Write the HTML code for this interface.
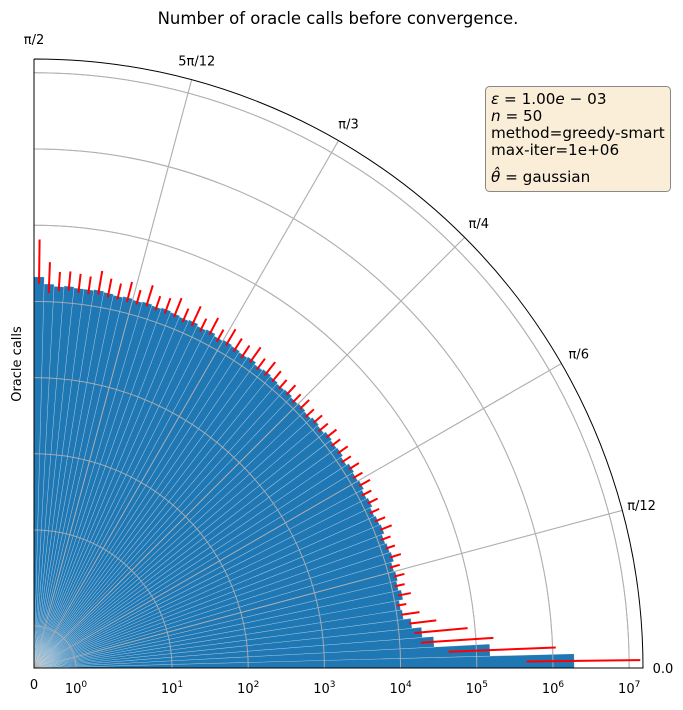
<!DOCTYPE html>
<html><head><meta charset="utf-8">
<style>
html,body{margin:0;padding:0;background:#fff;}
body{width:683px;height:706px;overflow:hidden;font-family:"DejaVu Sans","Liberation Sans",sans-serif;}
svg text{font-family:"DejaVu Sans","Liberation Sans",sans-serif;fill:#000;}
</style></head>
<body>
<svg id="chart" width="683" height="706" viewBox="0 0 683 706" xmlns="http://www.w3.org/2000/svg">
<text x="338" y="24" text-anchor="middle" font-size="16.5">Number of oracle calls before convergence.</text>
<text transform="translate(21,364) rotate(-90)" text-anchor="middle" font-size="13">Oracle calls</text>
<g id="grid"></g>
<g id="bars"></g>
<g id="errs"></g>
<g id="frame"></g>
<g id="labels"></g>
<g>
<rect x="485.5" y="86.5" width="185" height="105" rx="4" fill="#faeed9" stroke="#888" stroke-width="1"/>
<text x="491" y="104" font-size="15.2"><tspan font-style="italic">ε</tspan> = 1.00<tspan font-style="italic">e</tspan> − 03</text>
<text x="491" y="121" font-size="15.2"><tspan font-style="italic">n</tspan> = 50</text>
<text x="491" y="138" font-size="15.2">method=greedy-smart</text>
<text x="491" y="155" font-size="15.2">max-iter=1e+06</text>
<text x="491" y="182" font-size="15.2"><tspan font-style="italic">θ̂</tspan> = gaussian</text>
</g>
</svg>
<script>
const values = [1.9e6,1.5e5,2.8e4,2.0e4,1.5e4,1.2e4,1.15e4,1.3e4,1.2e4,1.25e4,
1.2e4,1.3e4,1.25e4,1.2e4,1.3e4,1.25e4,1.2e4,1.28e4,1.22e4,1.3e4,
1.25e4,1.3e4,1.2e4,1.28e4,1.25e4,1.3e4,1.22e4,1.27e4,1.2e4,1.25e4,
1.22e4,1.28e4,1.25e4,1.3e4,1.35e4,1.3e4,1.4e4,1.35e4,1.4e4,1.45e4,
1.4e4,1.5e4,1.45e4,1.55e4,1.5e4,1.55e4,1.6e4,1.55e4,1.6e4,1.55e4,
1.6e4,1.55e4,1.6e4,1.65e4,1.6e4,1.6e4,1.65e4,1.6e4,1.7e4,2.1e4];
const errLow = [4.5e5,4.3e4,1.9e4,1.6e4,1.4e4,1.15e4,1.05e4,1.15e4,1.1e4,1.15e4,
1.1e4,1.2e4,1.15e4,1.1e4,1.2e4,1.15e4,1.1e4,1.18e4,1.12e4,1.2e4,
1.15e4,1.2e4,1.1e4,1.18e4,1.15e4,1.2e4,1.12e4,1.17e4,1.1e4,1.15e4,
1.12e4,1.18e4,1.15e4,1.2e4,1.2e4,1.2e4,1.25e4,1.2e4,1.25e4,1.3e4,
1.25e4,1.35e4,1.3e4,1.35e4,1.35e4,1.4e4,1.4e4,1.4e4,1.45e4,1.4e4,
1.4e4,1.4e4,1.4e4,1.45e4,1.4e4,1.4e4,1.45e4,1.4e4,1.3e4,1.7e4];
const errHigh = [1.4e7,1.1e6,1.7e5,8e4,3.2e4,2.0e4,1.4e4,1.7e4,1.5e4,1.6e4,
1.5e4,1.7e4,1.55e4,1.5e4,1.75e4,1.6e4,1.5e4,1.65e4,1.55e4,1.75e4,
1.6e4,1.7e4,1.55e4,1.7e4,1.6e4,1.75e4,1.6e4,1.65e4,1.55e4,1.7e4,
1.6e4,1.75e4,1.65e4,1.8e4,2.0e4,1.8e4,2.2e4,1.9e4,2.0e4,2.3e4,
1.9e4,2.4e4,2.0e4,2.6e4,2.1e4,2.6e4,2.3e4,2.2e4,2.8e4,2.2e4,
2.6e4,2.3e4,2.5e4,3.0e4,2.4e4,2.5e4,2.6e4,2.5e4,3.3e4,6.5e4];
const rTicks = [1,10,100,1000,1e4,1e5,1e6,1e7];
const rTickLabels = ["0","1","2","3","4","5","6","7"];
const thetaTickLabels = ["0.0","π/12","π/6","π/4","π/3","5π/12","π/2"];

const CX=34, CY=668, RMAX=609;
function rScale(v){
  if(v<=0) return 0;
  if(v<1) return 42*v;
  if(v<10) return 42+96*Math.log10(v);
  return 138+76.2*(Math.log10(v)-1);
}
function pt(r,a){return [CX+r*Math.cos(a), CY-r*Math.sin(a)];}
const NS="http://www.w3.org/2000/svg";
function mk(tag,attrs,parent){const e=document.createElementNS(NS,tag);for(const k in attrs)e.setAttribute(k,attrs[k]);parent.appendChild(e);return e;}

const grid=document.getElementById('grid');
rTicks.forEach((t,i)=>{
  const r=rScale(t);const p=pt(r,Math.PI/2);
  const c=mk('path',{d:`M${CX+r},${CY} A${r},${r} 0 0 0 ${p[0]},${p[1]}`,fill:'none',stroke:'#b0b0b0','stroke-width':1},grid);
  
  
});
thetaTickLabels.forEach((lab,i)=>{
  const a=i*Math.PI/12;const p=pt(RMAX,a);
  const l=mk('line',{x1:CX,y1:CY,x2:p[0],y2:p[1],stroke:'#b0b0b0','stroke-width':1},grid);
  
  
});

const N=values.length, w=(Math.PI/2)/N;
const bars=document.getElementById('bars');
values.forEach((v,i)=>{
  const a0=i*w,a1=(i+1)*w,r=rScale(v);
  const p0=pt(r,a0),p1=pt(r,a1);
  const b=mk('path',{d:`M${CX},${CY} L${p0[0]},${p0[1]} A${r},${r} 0 0 0 ${p1[0]},${p1[1]} Z`,fill:'#1f77b4',stroke:'rgba(255,255,255,0.35)','stroke-width':0.6},bars);
  
  
});
const errs=document.getElementById('errs');
values.forEach((v,i)=>{
  const a=(i+0.5)*w;const p0=pt(rScale(errLow[i]),a),p1=pt(rScale(errHigh[i]),a);
  const l=mk('line',{x1:p0[0],y1:p0[1],x2:p1[0],y2:p1[1],stroke:'#ff0000','stroke-width':2},errs);
  
  
});
const grid2=grid.cloneNode(true);grid2.setAttribute('opacity','0.9');
document.getElementById('chart').insertBefore(grid2,errs);

const frame=document.getElementById('frame');
const pe=pt(RMAX,Math.PI/2);
const f=mk('path',{d:`M${CX},${pe[1]} L${CX},${CY} L${CX+RMAX},${CY} A${RMAX},${RMAX} 0 0 0 ${pe[0]},${pe[1]}`,fill:'none',stroke:'#000','stroke-width':1},frame);



const labels=document.getElementById('labels');
const z=mk('text',{x:CX,y:689,'text-anchor':'middle','font-size':13},labels);z.textContent='0';


rTicks.forEach((t,i)=>{
  const x=CX+rScale(t);
  const tx=mk('text',{x:x,y:693,'text-anchor':'middle','font-size':13},labels);
  
  
  tx.textContent='10';
  const s=mk('tspan',{dy:-6,'font-size':9},tx);s.textContent=rTickLabels[i];
});
thetaTickLabels.forEach((lab,i)=>{
  const a=i*Math.PI/12;const p=pt(RMAX+20,a);
  const tx=mk('text',{x:p[0],y:p[1]+5,'text-anchor':'middle','font-size':13},labels);
  
  
  tx.textContent=lab;
});
</script>
</body></html>
